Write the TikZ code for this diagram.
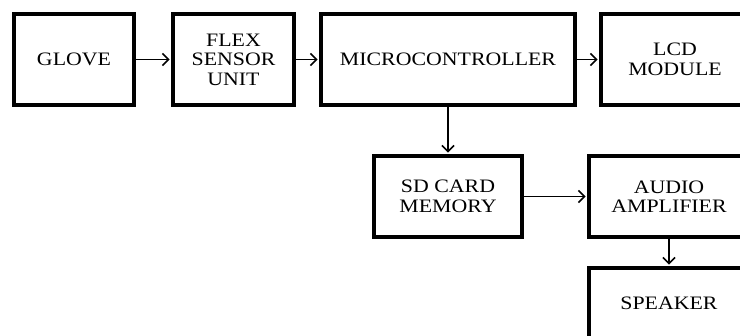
\documentclass[tikz,border=0pt]{standalone}
\usepackage{fontspec}
\setmainfont{Liberation Serif}[FakeStretch=1.15]
\usetikzlibrary{arrows.meta}
\tikzset{
  blk/.style={draw,line width=3.5pt,inner sep=0pt,align=center,
    font=\fontsize{19}{19.5}\selectfont},
  conn/.style={-{Straight Barb[length=6pt,width=12pt]},line width=1.6pt,shorten >=1.7pt}
}
\begin{document}
\begin{tikzpicture}[x=1pt,y=-1pt]
        \useasboundingbox (0,0) rectangle (740,336);
        \clip (0,0) rectangle (740,336);
        % top row
        \node[blk,minimum width=120pt,minimum height=91pt] (glove) at (74,59.5) {GLOVE};
        \node[blk,minimum width=121pt,minimum height=91pt] (flex) at (233.5,59.5) {FLEX\\SENSOR\\UNIT};
        \node[blk,minimum width=254pt,minimum height=91pt] (micro) at (448,59.5) {MICROCONTROLLER};
        \node[blk,minimum width=148pt,minimum height=91pt] (lcd) at (675,59.5) {LCD\\MODULE};
        % lower part
        \node[blk,minimum width=148pt,minimum height=81pt] (sd) at (448,196.5) {SD CARD\\MEMORY};
        \node[blk,minimum width=160pt,minimum height=81pt] (amp) at (669,196.5) {AUDIO\\AMPLIFIER};
        \node[blk,minimum width=160pt,minimum height=70pt] (spk) at (669,303) {SPEAKER};
        \draw[conn] (glove) -- (flex);
        \draw[conn] (flex) -- (micro);
        \draw[conn] (micro) -- (lcd);
        \draw[conn] (micro) -- (sd);
        \draw[conn] (sd) -- (amp);
        \draw[conn] (amp) -- (spk);
\end{tikzpicture}
\end{document}
